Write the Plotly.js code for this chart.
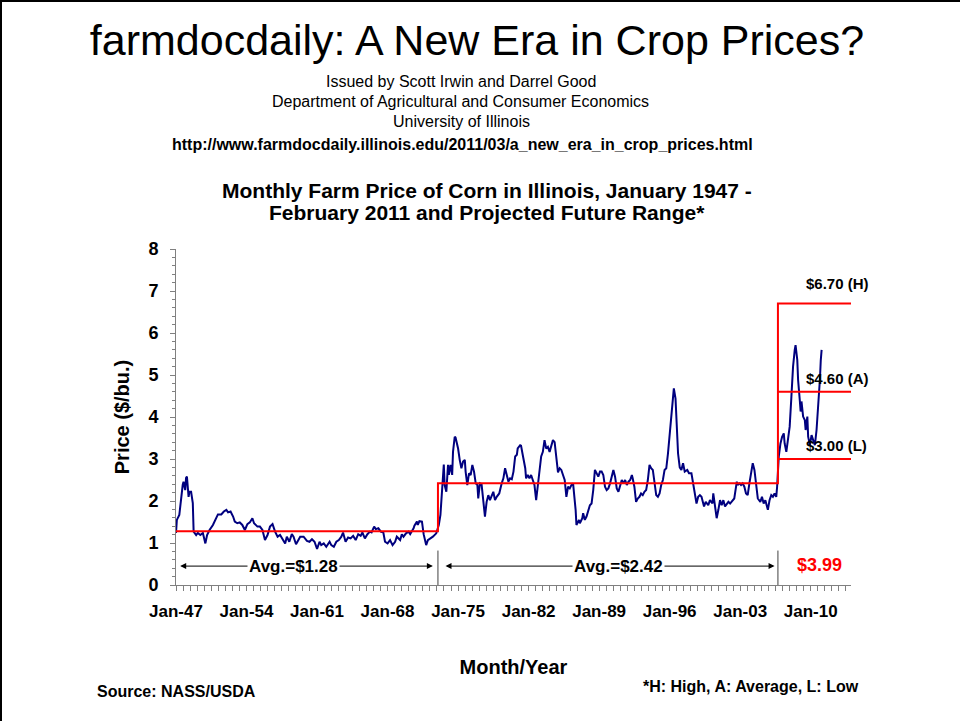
<!DOCTYPE html>
<html><head><meta charset="utf-8">
<script src="https://cdn.plot.ly/plotly-3.0.1.min.js"></script>
<style>
html,body{margin:0;padding:0;background:#fff;}
#wrap{position:relative;width:960px;height:721px;overflow:hidden;}
#chart{width:960px;height:721px;}
#frame{position:absolute;left:0;top:0;width:958px;height:719px;border-left:2px solid #000;border-top:2px solid #000;pointer-events:none;}
</style>
</head><body><div id="wrap"><div id="chart"></div><div id="frame"></div></div>
<script>
// ---------- DATA ----------
const months = ["1947-01","1947-02","1947-05","1947-07","1947-09","1947-10","1947-12","1948-01","1948-02","1948-04","1948-05","1948-07","1948-09","1948-10","1949-01","1949-03","1949-06","1949-09","1949-12","1950-02","1950-05","1950-09","1951-01","1951-03","1951-07","1951-10","1952-01","1952-03","1952-06","1952-09","1952-11","1953-02","1953-05","1953-08","1953-11","1954-02","1954-05","1954-08","1954-10","1955-02","1955-05","1955-08","1955-11","1956-02","1956-05","1956-08","1956-11","1957-02","1957-05","1957-08","1957-11","1958-01","1958-04","1958-07","1958-09","1958-12","1959-03","1959-05","1959-09","1960-01","1960-04","1960-07","1960-10","1961-01","1961-04","1961-06","1961-09","1961-12","1962-04","1962-06","1962-09","1962-12","1963-03","1963-06","1963-08","1963-11","1964-02","1964-05","1964-08","1964-11","1965-02","1965-05","1965-07","1965-10","1966-01","1966-04","1966-06","1966-09","1966-11","1967-02","1967-05","1967-08","1967-10","1968-01","1968-04","1968-07","1968-10","1968-12","1969-04","1969-06","1969-08","1969-11","1970-02","1970-04","1970-08","1970-09","1970-12","1971-01","1971-03","1971-06","1971-08","1971-11","1972-01","1972-04","1972-07","1972-11","1972-12","1973-02","1973-04","1973-06","1973-07","1973-08","1973-09","1973-11","1974-01","1974-02","1974-04","1974-06","1974-07","1974-09","1974-10","1974-12","1975-01","1975-03","1975-05","1975-07","1975-09","1975-10","1975-12","1976-02","1976-04","1976-06","1976-08","1976-10","1976-12","1977-01","1977-03","1977-05","1977-07","1977-09","1977-11","1978-01","1978-03","1978-05","1978-07","1978-09","1978-11","1979-02","1979-04","1979-05","1979-07","1979-09","1979-11","1980-01","1980-03","1980-05","1980-07","1980-09","1980-11","1980-12","1981-03","1981-04","1981-06","1981-09","1981-10","1981-12","1982-02","1982-04","1982-06","1982-08","1982-10","1982-12","1983-02","1983-04","1983-06","1983-08","1983-10","1983-12","1984-02","1984-04","1984-06","1984-08","1984-10","1984-12","1985-02","1985-04","1985-06","1985-08","1985-10","1985-12","1986-02","1986-04","1986-06","1986-07","1986-09","1986-10","1987-01","1987-02","1987-05","1987-06","1987-08","1987-10","1987-12","1988-02","1988-04","1988-06","1988-08","1988-10","1988-12","1989-02","1989-04","1989-06","1989-08","1989-10","1989-12","1990-02","1990-04","1990-06","1990-08","1990-10","1990-12","1991-02","1991-04","1991-06","1991-08","1991-10","1991-12","1992-02","1992-04","1992-05","1992-07","1992-09","1992-11","1993-01","1993-03","1993-05","1993-07","1993-09","1993-11","1994-01","1994-03","1994-05","1994-07","1994-09","1994-11","1995-01","1995-03","1995-05","1995-07","1995-09","1995-11","1996-01","1996-03","1996-05","1996-06","1996-08","1996-09","1996-11","1997-01","1997-03","1997-05","1997-07","1997-10","1997-12","1998-03","1998-05","1998-07","1998-09","1998-11","1999-01","1999-03","1999-06","1999-08","1999-11","2000-01","2000-04","2000-05","2000-07","2000-09","2000-11","2001-01","2001-03","2001-05","2001-07","2001-09","2001-11","2002-01","2002-04","2002-06","2002-09","2002-10","2002-12","2003-02","2003-04","2003-06","2003-08","2003-10","2003-12","2004-02","2004-04","2004-06","2004-08","2004-10","2005-01","2005-03","2005-05","2005-07","2005-10","2005-12","2006-02","2006-04","2006-06","2006-08","2006-09","2006-11","2007-01","2007-03","2007-05","2007-06","2007-08","2007-10","2007-12","2008-02","2008-04","2008-06","2008-07","2008-09","2008-10","2008-12","2009-01","2009-02","2009-04","2009-06","2009-07","2009-09","2009-10","2009-12","2010-02","2010-04","2010-06","2010-08","2010-10","2010-12","2011-01","2011-02"];
const prices = [1.24,1.55,1.67,2.07,2.38,2.46,2.26,2.55,2.58,2.10,2.22,2.22,1.95,1.27,1.19,1.24,1.19,1.24,0.99,1.19,1.31,1.43,1.63,1.68,1.68,1.75,1.79,1.73,1.75,1.63,1.51,1.47,1.49,1.43,1.31,1.45,1.49,1.59,1.47,1.39,1.39,1.31,1.07,1.19,1.39,1.45,1.27,1.15,1.19,1.07,0.99,1.15,1.03,1.21,1.15,0.97,1.07,1.15,1.15,1.05,1.03,1.09,1.03,0.86,1.03,0.95,0.99,0.91,1.03,0.95,0.91,1.03,1.07,1.15,1.25,1.03,1.13,1.11,1.17,1.07,1.21,1.17,1.25,1.11,1.21,1.27,1.25,1.39,1.33,1.35,1.27,1.25,1.03,0.99,1.07,0.95,1.03,1.15,1.07,1.21,1.15,1.23,1.27,1.21,1.35,1.41,1.51,1.43,1.52,1.51,1.21,0.95,1.07,1.11,1.15,1.23,1.30,1.43,1.67,2.22,2.54,2.87,2.38,2.22,2.86,2.62,2.86,2.62,3.17,3.53,3.51,3.33,3.25,2.98,2.78,2.94,2.98,2.70,2.38,2.66,2.62,2.86,2.70,2.42,2.38,2.06,2.42,2.40,1.98,1.63,1.98,2.14,2.02,2.14,2.22,2.02,2.10,2.18,2.38,2.42,2.54,2.78,2.62,2.46,2.54,2.52,2.70,3.06,3.10,3.25,3.33,3.32,3.10,2.78,2.54,2.62,2.54,2.62,2.50,2.38,2.02,2.34,2.70,3.06,3.17,3.45,3.25,3.29,3.17,3.29,3.45,3.40,3.00,2.68,2.78,2.74,2.62,2.50,2.10,2.34,2.30,2.38,2.42,2.26,1.79,1.43,1.55,1.47,1.59,1.71,1.55,1.63,1.79,1.90,1.94,2.26,2.74,2.66,2.58,2.70,2.70,2.62,2.34,2.26,2.30,2.42,2.58,2.74,2.58,2.30,2.22,2.38,2.50,2.42,2.50,2.38,2.46,2.50,2.62,2.54,2.34,1.98,2.06,2.10,2.18,2.14,2.22,2.26,2.50,2.86,2.78,2.74,2.42,2.14,2.10,2.18,2.38,2.50,2.74,2.78,3.13,3.53,4.09,4.44,4.68,4.44,3.87,3.13,2.80,2.74,2.90,2.70,2.74,2.66,2.66,2.42,2.14,1.94,2.10,2.14,2.10,1.87,1.98,1.90,2.02,1.94,2.18,1.94,1.59,1.79,2.02,1.90,2.02,1.87,1.94,1.98,1.94,2.02,2.06,2.46,2.38,2.42,2.38,2.42,2.34,2.18,2.14,2.42,2.66,2.90,2.74,2.34,2.06,1.98,2.10,1.94,2.02,1.79,2.02,2.14,2.10,2.18,2.10,2.34,3.06,3.37,3.53,3.61,3.37,3.17,3.53,3.77,4.48,5.20,5.60,5.71,5.36,4.88,4.40,4.13,4.37,4.01,3.93,3.69,4.01,3.53,3.33,3.57,3.45,3.33,3.69,4.25,4.90,5.35,5.60];

// period averages
const periodStarts = ["1947-01","1973-01","2006-10"];
const periodEnds   = ["1973-01","2006-10","2014-01"];
const periodAvgs   = [1.28, 2.42, 3.99];
// projected future range
const rangeValues = [6.70, 4.60, 3.00];
const rangeCodes  = ["H","A","L"];

const xTickStart = "1947-01-01";
const xRangeEnd  = "2014-01-01";

// ---------- HELPERS ----------
function addMonths(s, n){
  const p = s.split('-').map(Number);
  const t = p[0]*12 + (p[1]-1) + n;
  const yy = Math.floor(t/12), mm = t - yy*12 + 1;
  return yy + '-' + String(mm).padStart(2,'0');
}
function monthsBetween(a,b){
  const pa=a.split('-').map(Number), pb=b.split('-').map(Number);
  return (pb[0]*12+pb[1]) - (pa[0]*12+pa[1]);
}
const L=176, R=851, T=249, B=585;
const px = x => (x-L)/(R-L);
const py = y => (B-y)/(B-T);

const FONT = "Liberation Sans, Arial, Helvetica, sans-serif";
const BLUE = "#00007f", RED = "#ff0000";

// minor tick marks along the time axis (every 0.7 year, as in the source chart)
const minorStep = 0.7*365.25*86400000;
const minorVals = [];
for (let t = Date.parse(xTickStart+"T00:00:00Z"); t <= Date.parse(xRangeEnd+"T00:00:00Z"); t += minorStep){
  minorVals.push(new Date(t).toISOString().slice(0,10));
}

// ---------- TRACES ----------
const priceTrace = {
  type:'scatter', mode:'lines', x: months, y: prices,
  line:{color:BLUE, width:2}, hoverinfo:'x+y', showlegend:false
};

const stepX = [], stepY = [];
for (let i=0;i<2;i++){ stepX.push(periodStarts[i], periodEnds[i]); stepY.push(periodAvgs[i], periodAvgs[i]); }
stepX.push(periodStarts[2], periodEnds[2]); stepY.push(rangeValues[0], rangeValues[0]);
const stepTrace = {type:'scatter', mode:'lines', x:stepX, y:stepY, line:{color:RED,width:2}, showlegend:false, hoverinfo:'skip'};

const rangeTraces = rangeValues.slice(1).map(v => ({
  type:'scatter', mode:'lines', x:[periodStarts[2], periodEnds[2]], y:[v,v],
  line:{color:RED,width:2}, showlegend:false, hoverinfo:'skip'
}));

// ---------- ANNOTATIONS ----------
const ann = [];
const hdr = (text, x, y, size, bold, extra) => Object.assign({
  text, xref:'paper', yref:'paper', x:px(x), y:py(y), showarrow:false,
  xanchor:'center', yanchor:'middle',
  font:{family:FONT, size, color:'#000', weight: bold?700:400}
}, extra||{});

ann.push(hdr("Issued by Scott Irwin and Darrel Good", 461, 81, 16, false));
ann.push(hdr("Department of Agricultural and Consumer Economics", 460, 101, 16, false));
ann.push(hdr("University of Illinois", 461, 121, 16, false));
ann.push(hdr("http://www.farmdocdaily.illinois.edu/2011/03/a_new_era_in_crop_prices.html", 462, 144, 16, true));
ann.push(hdr("Monthly Farm Price of Corn in Illinois, January 1947 -", 487, 190, 21, true));
ann.push(hdr("February 2011 and Projected Future Range*", 487, 213, 21, true));
ann.push(hdr("Source: NASS/USDA", 95, 691, 16, true, {xanchor:'left'}));
ann.push(hdr("*H: High, A: Average, L: Low", 641, 686, 16, true, {xanchor:'left'}));

const arrowY = 0.45;
const arrowCfg = [
  {l:5, r:-6, c:0.45},
  {l:9, r:-4, c:0.53}
];
for (let i=0;i<2;i++){
  const span = monthsBetween(periodStarts[i], periodEnds[i]);
  const cx = addMonths(periodStarts[i], Math.round(span*arrowCfg[i].c));
  const tips = [addMonths(periodStarts[i], arrowCfg[i].l), addMonths(periodEnds[i], arrowCfg[i].r)];
  tips.forEach(tp => ann.push({
    text:'', x:tp, y:arrowY, xref:'x', yref:'y', ax:cx, ay:arrowY, axref:'x', ayref:'y',
    showarrow:true, arrowhead:2, arrowsize:1.2, arrowwidth:1, arrowcolor:'#000'
  }));
  ann.push({
    text:'Avg.=$' + periodAvgs[i].toFixed(2), x:cx, y:arrowY, xref:'x', yref:'y', showarrow:false,
    bgcolor:'#ffffff', borderpad:1, font:{family:FONT, size:17, color:'#000', weight:700}
  });
}
ann.push({
  text:'$' + periodAvgs[2].toFixed(2), x:addMonths(periodStarts[2], 20), y:0.48, xref:'x', yref:'y',
  showarrow:false, xanchor:'left', font:{family:FONT, size:18, color:RED, weight:700}
});
rangeValues.forEach((v,i) => ann.push({
  text:'$' + v.toFixed(2) + ' (' + rangeCodes[i] + ')', x:addMonths(periodStarts[2], 31), y:v,
  xref:'x', yref:'y', showarrow:false, xanchor:'left', yanchor:'bottom', yshift: i===0?10:3,
  font:{family:FONT, size:15, color:'#000', weight:700}
}));

const shapes = [periodStarts[1], periodStarts[2]].map(d => ({
  type:'line', xref:'x', yref:'y', x0:d, x1:d, y0:0, y1:0.82, line:{color:'#404040', width:1}
}));

// ---------- LAYOUT ----------
const layout = {
  width:960, height:721,
  margin:{l:L, r:960-R, t:T, b:721-B, pad:0},
  paper_bgcolor:'#fff', plot_bgcolor:'#fff',
  showlegend:false,
  title:{text:"farmdocdaily: A New Era in Crop Prices?", x:477/960, xref:'container', y:1-40/721, yref:'container',
    xanchor:'center', yanchor:'middle', font:{family:FONT, size:43, color:'#000'}},
  xaxis:{
    type:'date', range:[xTickStart, xRangeEnd], tick0:xTickStart, dtick:'M84', tickformat:'%b-%y',
    showgrid:false, zeroline:false, showline:true, linecolor:'#808080', linewidth:1,
    ticks:'outside', ticklen:5, tickcolor:'#808080', ticklabelstandoff:6,
    minor:{ticks:'outside', ticklen:5, tickcolor:'#808080', tickmode:'array', tickvals:minorVals, showgrid:false},
    tickfont:{family:FONT, size:17, color:'#000', weight:700},
    title:{text:'Month/Year', standoff:39, font:{family:FONT, size:20, color:'#000', weight:700}},
    automargin:false, fixedrange:true
  },
  yaxis:{
    range:[0,8], dtick:1, tick0:0, showgrid:false, zeroline:false, showline:true, linecolor:'#808080', linewidth:1,
    ticks:'outside', ticklen:5, tickcolor:'#808080', ticklabelstandoff:8,
    minor:{ticks:'outside', ticklen:3, tickcolor:'#808080', dtick:0.2, showgrid:false},
    tickfont:{family:FONT, size:18, color:'#000', weight:700},
    title:{text:'Price ($/bu.)', standoff:13, font:{family:FONT, size:20, color:'#000', weight:700}},
    automargin:false, fixedrange:true
  },
  annotations: ann,
  shapes: shapes
};

Plotly.newPlot('chart', [priceTrace, stepTrace].concat(rangeTraces), layout, {displayModeBar:false, staticPlot:true});
</script></body></html>
